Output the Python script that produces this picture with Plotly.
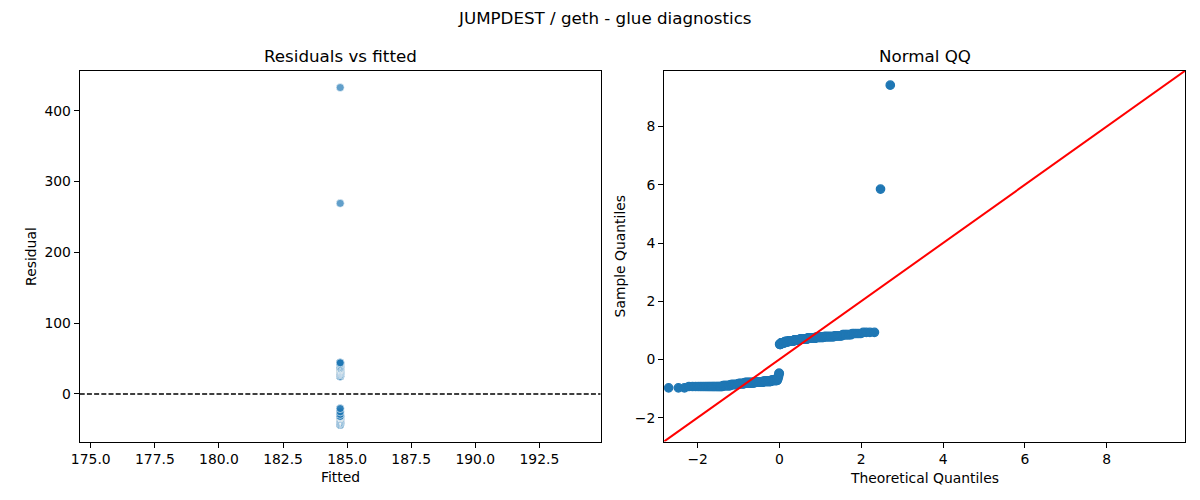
import numpy as np
from statistics import NormalDist
import plotly.graph_objects as go

# glue model output for JUMPDEST on geth: one fitted value, residuals
FITTED = 184.73

resid_levels = [-43.3, -41.2, -39.8, -38.0, -36.6, -35.2, -34.1, -33.0, -31.6, -28.8, -25.2, -20.6,
                25.2, 27.5, 29.3, 30.7, 32.1, 33.5, 34.8, 36.2, 37.4, 38.5, 40.3, 42.2, 44.0,
                269.3, 432.8]
resid_counts = [3, 21, 10, 12, 12, 22, 22, 22, 18, 2, 2, 2,
                4, 11, 12, 15, 15, 18, 17, 15, 15, 8, 7, 5, 4,
                1, 1]

left_xticks = [175.0, 177.5, 180.0, 182.5, 185.0, 187.5, 190.0, 192.5]
left_yticks = [0, 100, 200, 300, 400]
qq_ticks = [-2, 0, 2, 4, 6, 8]
QQ_LIM = [-2.82, 9.92]

TITLE = 'JUMPDEST / geth - glue diagnostics'

resid = np.repeat(resid_levels, resid_counts)
fitted = np.full(len(resid), FITTED)

# qq: standardised sample vs normal quantiles at i/(n+1)
n = len(resid)
sample_q = np.sort((resid - resid.mean()) / resid.std())
nd = NormalDist()
theo_q = np.array([nd.inv_cdf(i / (n + 1)) for i in range(1, n + 1)])


def pad(lo, hi, frac=0.05):
    d = hi - lo
    return [lo - frac * d, hi + frac * d]


# matplotlib style limits for a single x value
xr_left = pad(FITTED * 0.95, FITTED * 1.05)
yr_left = pad(resid.min(), resid.max())

W, H = 1200, 500
OFF = 8  # page body margin, the figure sits 8px in from the window corner
def px(x):
    return (x - OFF) / W
def py(y):
    return 1 - (y - OFF) / H

BLUE = '#1f77b4'
FONT = 'DejaVu Sans'

fig = go.Figure()
fig.add_trace(go.Scatter(x=fitted, y=resid, mode='markers', xaxis='x', yaxis='y',
                         marker=dict(color=BLUE, size=8, opacity=0.7,
                                     line=dict(color='white', width=0.6)),
                         showlegend=False))
fig.add_trace(go.Scatter(x=xr_left, y=[0, 0], mode='lines', xaxis='x', yaxis='y',
                         line=dict(color='black', width=1.3, dash='5px,2.2px'),
                         showlegend=False))
fig.add_trace(go.Scatter(x=theo_q, y=sample_q, mode='markers', xaxis='x2', yaxis='y2',
                         marker=dict(color=BLUE, size=8.4, line=dict(color=BLUE, width=1.3)),
                         showlegend=False))
fig.add_trace(go.Scatter(x=QQ_LIM, y=QQ_LIM, mode='lines', xaxis='x2', yaxis='y2',
                         line=dict(color='red', width=2), showlegend=False))

axis_common = dict(showline=True, linecolor='black', linewidth=1.1, mirror=True,
                   ticks='outside', ticklen=5, tickwidth=1.1, tickcolor='black',
                   showgrid=False, zeroline=False,
                   tickfont=dict(family=FONT, size=13.9, color='black'))

fig.update_layout(
    width=W, height=H,
    margin=dict(l=0, r=0, t=0, b=0),
    plot_bgcolor='white', paper_bgcolor='white',
    font=dict(family=FONT, color='black'),
    xaxis=dict(domain=[px(71.2), px(596.1)], range=xr_left, anchor='y',
               tickvals=left_xticks, tickformat='.1f', **axis_common),
    yaxis=dict(domain=[py(441.5), py(70.7)], range=yr_left, anchor='x',
               tickvals=left_yticks, **axis_common),
    xaxis2=dict(domain=[px(660), px(1185)], range=QQ_LIM, anchor='y2',
                tickvals=qq_ticks, **axis_common),
    yaxis2=dict(domain=[py(441.5), py(70.7)], range=QQ_LIM, anchor='x2',
                tickvals=qq_ticks, **axis_common),
)

notes = [
    (TITLE, px(600), py(18), 16.7, 0),
    ('Residuals vs fitted', px(333.6), py(56), 16.7, 0),
    ('Normal QQ', px(922.5), py(56), 16.7, 0),
    ('Fitted', px(333.6), py(477), 13.9, 0),
    ('Theoretical Quantiles', px(922.5), py(478), 13.9, 0),
    ('Residual', px(22), py(256), 13.9, -90),
    ('Sample Quantiles', px(616), py(256), 13.9, -90),
]
for text, x, y, size, ang in notes:
    fig.add_annotation(text=text, x=x, y=y, xref='paper', yref='paper',
                       xanchor='center', yanchor='middle', showarrow=False,
                       textangle=ang, font=dict(family=FONT, size=size, color='black'))

fig.write_html("out.html")
